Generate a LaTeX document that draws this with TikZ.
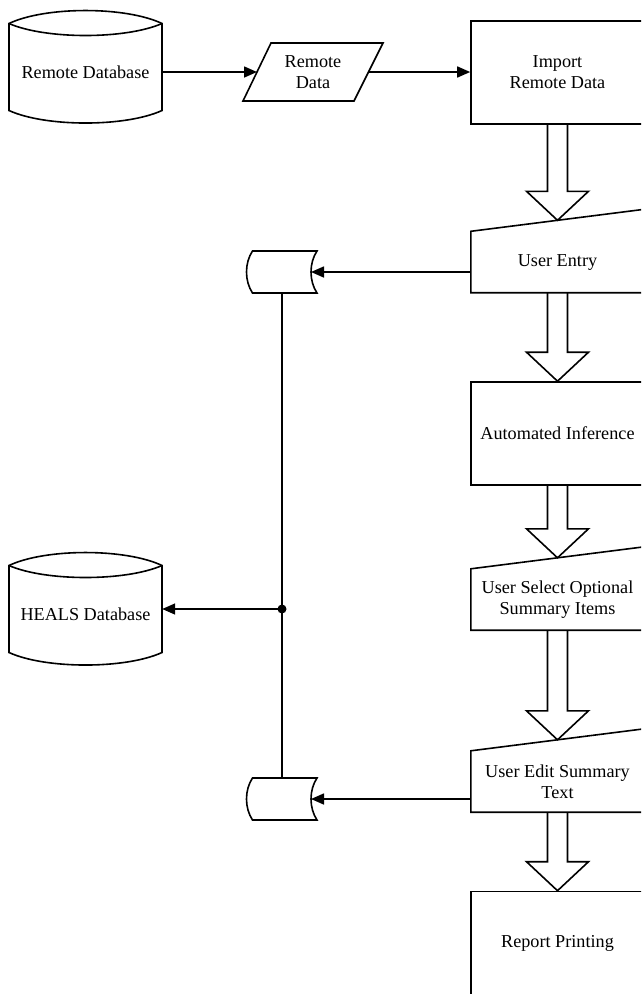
\documentclass[tikz,border=0pt]{standalone}
\usepackage{fontspec}
\setmainfont{Liberation Serif}
\usetikzlibrary{arrows.meta,calc}
\tikzset{
  ln/.style={line width=1.6pt, line join=miter},
  txt/.style={font=\fontsize{18.2}{21}\selectfont, align=center, inner sep=0pt},
  boxn/.style={txt, draw, ln, minimum width=173pt, minimum height=103pt},
  slotn/.style={txt, minimum width=173pt, minimum height=61pt},
  dbn/.style={txt, minimum width=153pt, minimum height=87pt},
  stn/.style={minimum width=70pt, minimum height=42pt, inner sep=0pt},
  arr/.style={ln, -{Triangle[length=13pt,width=11pt]}},
  hollow/.style={ln, to path={let \p1=(\tikztostart), \p2=(\tikztotarget) in
    (\x1-10pt,\y1) -- (\x1-10pt,\y2+29pt) -- (\x1-31pt,\y2+29pt) -- (\x2,\y2)
    -- (\x1+31pt,\y2+29pt) -- (\x1+10pt,\y2+29pt) -- (\x1+10pt,\y1)}},
}
\newcommand\dbdraw[1]{%
  \draw[ln] ($(#1.center)+(-76.5,-48.5)$) .. controls ($(#1.center)+(-40,-65.8)$) and ($(#1.center)+(40,-65.8)$) .. ($(#1.center)+(76.5,-48.5)$)
    -- ($(#1.center)+(76.5,38.5)$) .. controls ($(#1.center)+(40,55.2)$) and ($(#1.center)+(-40,55.2)$) .. ($(#1.center)+(-76.5,38.5)$) -- cycle;
  \draw[ln] ($(#1.center)+(-76.5,-48.5)$) .. controls ($(#1.center)+(-40,-32.5)$) and ($(#1.center)+(40,-32.5)$) .. ($(#1.center)+(76.5,-48.5)$);
}
\newcommand\stdraw[1]{%
  \draw[ln] ($(#1)+(-29.5,-21)$) -- ($(#1)+(35,-21)$) .. controls ($(#1)+(27,-9)$) and ($(#1)+(27,9)$) .. ($(#1)+(35,21)$)
    -- ($(#1)+(-29.5,21)$) .. controls ($(#1)+(-37.5,9)$) and ($(#1)+(-37.5,-9)$) .. cycle;
}
\newcommand\slotdraw[1]{%
  \draw[ln] (#1.south west) -- (#1.south east) -- ($(#1.north east)+(0,-22)$) -- (#1.north west) -- cycle;
}
\begin{document}
\begin{tikzpicture}[x=1pt,y=-1pt]
\useasboundingbox (0,0) rectangle (641,994);
\clip (0,0) rectangle (641,994);
% nodes
\node[dbn] (rdb) at (85.5,72) {Remote Database};
\dbdraw{rdb}
\node[txt] (rd) at (313,72) {Remote\\Data};
\draw[ln] ($(rd)+(-42,-29)$) -- ($(rd)+(70,-29)$) -- ($(rd)+(41,29)$) -- ($(rd)+(-70,29)$) -- cycle;
\coordinate (rd-w) at ($(rd)+(-56,0)$);
\coordinate (rd-e) at ($(rd)+(55.5,0)$);
\node[boxn] (imp) at (557.5,72.5) {Import\\Remote Data};
\node[slotn] (ue) at (557.5,262) {User Entry};
\slotdraw{ue}
\node[boxn] (ai) at (557.5,433.5) {Automated Inference};
\node[slotn] (us) at (557.5,599.5) {User Select Optional\\Summary Items};
\slotdraw{us}
\node[slotn] (uedit) at (557.5,781.5) {User Edit Summary\\Text};
\slotdraw{uedit}
\node[boxn] (rp) at (557.5,943) {Report Printing};
\node[stn] (st1) at (282,272) {};
\stdraw{st1}
\node[stn] (st2) at (282,799) {};
\stdraw{st2}
\node[dbn] (heals) at (85.5,614) {HEALS Database};
\dbdraw{heals}
\coordinate (ue-t) at ($(ue.north)+(0,-11)$);
\coordinate (us-t) at ($(us.north)+(0,-11)$);
\coordinate (uedit-t) at ($(uedit.north)+(0,-11)$);
\coordinate (st1-e) at ($(st1)+(29,0)$);
\coordinate (st2-e) at ($(st2)+(29,0)$);
\coordinate (j) at (282,609);
% connectors
\draw[arr] (rdb.east) -- (rd-w);
\draw[arr] (rd-e) -- (imp.west |- rd-e);
\draw[hollow] (imp.south) to (ue-t);
\draw[hollow] (ue.south) to (ai.north);
\draw[hollow] (ai.south) to (us-t);
\draw[hollow] (us.south) to (uedit-t);
\draw[hollow] (uedit.south) to (rp.north);
\draw[arr] (ue.west |- st1-e) -- (st1-e);
\draw[arr] (uedit.west |- st2-e) -- (st2-e);
\draw[ln] (st1.south) -- (st2.north);
\fill (j) circle[radius=4.5pt];
\draw[arr] (j) -- (heals.east |- j);
\end{tikzpicture}
\end{document}
